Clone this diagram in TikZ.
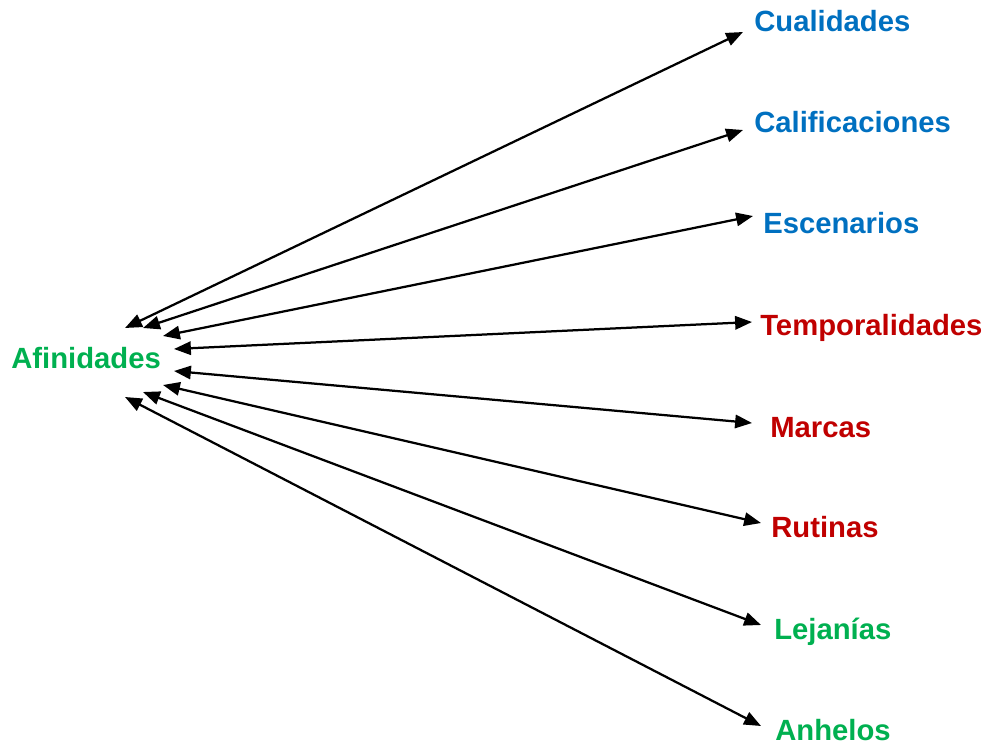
\documentclass[tikz,border=0pt]{standalone}
\usepackage{fontspec}
\setmainfont{Liberation Sans}
\usetikzlibrary{arrows.meta}
\definecolor{azul}{RGB}{0,112,192}
\definecolor{rojo}{RGB}{192,0,0}
\definecolor{verde}{RGB}{0,176,80}

\begin{document}
\begin{tikzpicture}[x=0.025cm, y=-0.025cm,
    label/.style={anchor=base west, inner sep=0pt, font=\fontsize{20.8}{24}\selectfont\bfseries},
    link/.style={line width=1.6pt, {Triangle[length=12pt,width=9.5pt]}-{Triangle[length=12pt,width=9.5pt]}}]
    \useasboundingbox (0,0) rectangle (992,748);

    % Center word (left side)
    \node[label, color=verde] (afin) at (11,368) {Afinidades};

    % Words on the right side
    \node[label, color=azul] (cual) at (754,32) {Cualidades};
    \node[label, color=azul] (calif) at (754,133) {Calificaciones};
    \node[label, color=azul] (esc) at (763,233) {Escenarios};
    \node[label, color=rojo] (temp) at (760,335) {Temporalidades};
    \node[label, color=rojo] (marc) at (770,437) {Marcas};
    \node[label, color=rojo] (rut) at (771,537) {Rutinas};
    \node[label, color=verde] (lej) at (774,639) {Lejanías};
    \node[label, color=verde] (anh) at (775,740) {Anhelos};

    % Arrow ends near Afinidades
    \coordinate (a1) at (125,328);
    \coordinate (a2) at (143,328);
    \coordinate (a3) at (163,336);
    \coordinate (a4) at (174,349);
    \coordinate (a5) at (174,371);
    \coordinate (a6) at (163,385);
    \coordinate (a7) at (143,392);
    \coordinate (a8) at (125,397);

    % Arrow ends near the right words
    \coordinate (b1) at (743,32);
    \coordinate (b2) at (743,130);
    \coordinate (b3) at (753,216);
    \coordinate (b4) at (752,322);
    \coordinate (b5) at (752,423);
    \coordinate (b6) at (761,523);
    \coordinate (b7) at (761,625);
    \coordinate (b8) at (761,726);

    % Connections
    \draw[link] (a1) -- (b1);
    \draw[link] (a2) -- (b2);
    \draw[link] (a3) -- (b3);
    \draw[link] (a4) -- (b4);
    \draw[link] (a5) -- (b5);
    \draw[link] (a6) -- (b6);
    \draw[link] (a7) -- (b7);
    \draw[link] (a8) -- (b8);
\end{tikzpicture}
\end{document}
